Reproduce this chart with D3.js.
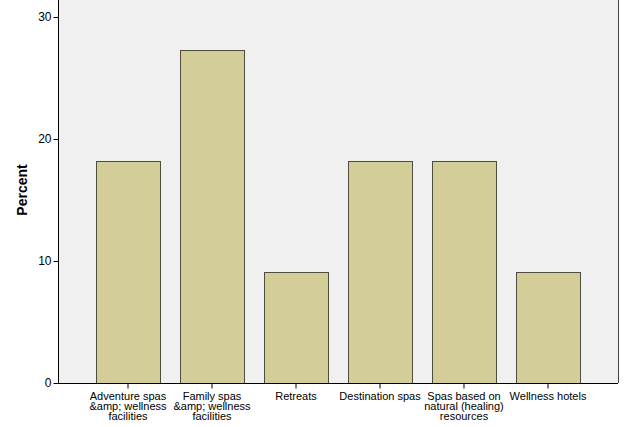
<!DOCTYPE html>
<html><head><meta charset="utf-8">
<script src="https://cdn.jsdelivr.net/npm/d3@7"></script>
<style>html,body{margin:0;padding:0;background:#fff;}svg{display:block;}</style>
</head><body>
<script>
const categories = ["Adventure spas &amp; wellness facilities","Family spas &amp; wellness facilities","Retreats","Destination spas","Spas based on natural (healing) resources","Wellness hotels"];
const tickLabels = [["Adventure spas","&amp; wellness","facilities"],["Family spas","&amp; wellness","facilities"],["Retreats"],["Destination spas"],["Spas based on","natural (healing)","resources"],["Wellness hotels"]];
const percent = [18.18, 27.27, 9.09, 18.18, 18.18, 9.09];
const yTicks = [0, 10, 20, 30];

(function() {
const W = 625, H = 427;
const pL = 58, pR = 618, pT = 0, pB = 383;
const svg = d3.select("body").append("svg").attr("width", W).attr("height", H);

svg.append("rect").attr("x", pL).attr("y", pT).attr("width", pR - pL).attr("height", pB - pT).attr("fill", "#f0f0f0");

const x = d3.scaleBand().domain(categories).range([pL, pR]).paddingInner(20/84).paddingOuter(0.4524);
const y = d3.scaleLinear().domain([0, 383/12.2]).range([pB, pT]);

svg.selectAll("rect.bar").data(percent).enter().append("rect")
  .attr("class", "bar")
  .attr("x", (d, i) => Math.round(x(categories[i])) + 0.5)
  .attr("y", d => Math.round(y(d)) + 0.5)
  .attr("width", Math.round(x.bandwidth()))
  .attr("height", d => Math.round(y(0)) - Math.round(y(d)))
  .attr("fill", "#d3ce97").attr("stroke", "#4e4e40").attr("stroke-width", 1);

// right border
svg.append("line").attr("x1", pR + 0.5).attr("x2", pR + 0.5).attr("y1", 0).attr("y2", pB)
  .attr("stroke", "#444").attr("stroke-width", 1);

// y axis
const yAxis = d3.axisLeft(y).tickValues(yTicks).tickSize(5).tickPadding(2).tickFormat(d3.format("d"));
const gy = svg.append("g").attr("transform", `translate(${pL + 0.5},0)`).call(yAxis);
gy.select(".domain").attr("d", `M0,${pT}V${pB + 0.5}`).attr("stroke", "#000");
gy.selectAll(".tick line").attr("stroke", "#000");
gy.selectAll(".tick text").attr("font-family", "Arial, 'Liberation Sans', sans-serif").attr("font-size", 12).attr("fill", "#000");

// x axis
const xAxis = d3.axisBottom(x).tickSize(5).tickFormat("");
const gx = svg.append("g").attr("transform", `translate(0,${pB + 0.5})`).call(xAxis);
gx.select(".domain").attr("d", `M${pL},0H${pR}`).attr("stroke", "#000");
gx.selectAll(".tick line").attr("stroke", "#000");
gx.selectAll(".tick").each(function(d, i) {
  const t = d3.select(this).append("text")
    .attr("font-family", "Arial, 'Liberation Sans', sans-serif").attr("font-size", 11)
    .attr("fill", "#000").attr("text-anchor", "middle");
  tickLabels[i].forEach((line, j) => {
    t.append("tspan").attr("x", 0).attr("y", 16.5 + j * 10).text(line);
  });
});

// y title
svg.append("text").attr("transform", `translate(27,190) rotate(-90)`)
  .attr("text-anchor", "middle")
  .attr("font-family", "Arial, 'Liberation Sans', sans-serif").attr("font-size", 14).attr("font-weight", "bold")
  .attr("fill", "#000").text("Percent");
})();
</script>
</body></html>
